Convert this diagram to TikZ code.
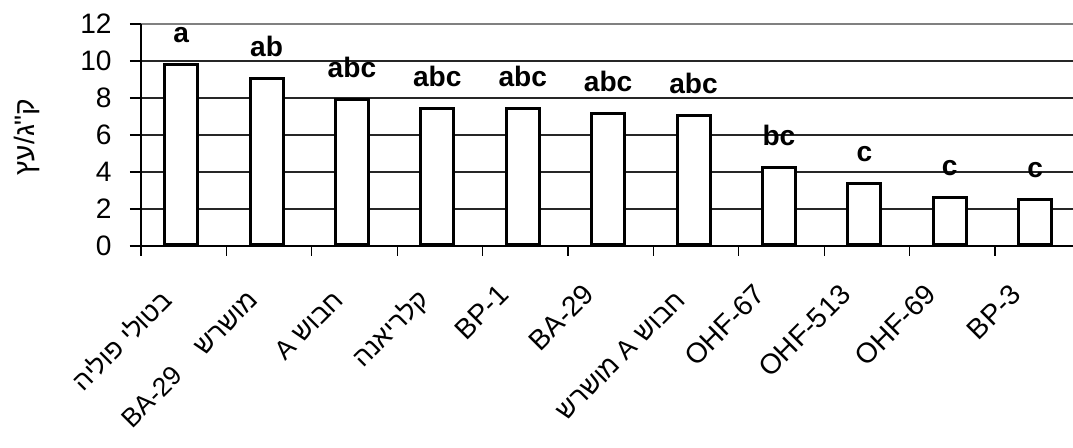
\documentclass[tikz,border=0pt]{standalone}
\usepackage{fontspec}
\setmainfont{Liberation Sans}
\newfontfamily\hebfont[Script=Hebrew]{Liberation Sans}
\TeXXeTstate=1
\usepackage{tikz}
\usetikzlibrary{positioning}

\tikzset{
  gridline/.style={line width=0.6pt, black!85},
  barbox/.style={draw, line width=1.7pt, fill=white, anchor=south, minimum width=0.66cm, inner sep=0pt},
  sig/.style={font=\bfseries\fontsize{16}{19}\selectfont, inner sep=0pt},
  catlabel/.style={rotate=45, anchor=north east, inner sep=0pt, text height=11.5pt, text depth=0pt},
  catheb/.style={catlabel, font=\hebfont\fontsize{15}{18}\selectfont, text height=15.6pt}
}

\begin{document}
\begin{tikzpicture}[x=1.708cm, y=0.37cm, every node/.style={font=\fontsize{16}{19}\selectfont}]
  \useasboundingbox (-2.82cm,-4.02cm) rectangle (18.64cm,4.92cm);

  % grid and axes
  \foreach \y in {2,4,...,10} \draw[gridline] (0,\y) -- (10.92,\y);
  \draw[line width=0.6pt, gray] (0,12) -- (10.92,12);
  \foreach \y in {0,2,...,12} {
    \draw[line width=0.6pt] (-0.129,\y) -- (0,\y);
    \node[anchor=east, inner sep=0pt] (t\y) at (-0.34,\y) {\y};
  }
  \foreach \k in {1,...,10} \draw[line width=0.6pt] (\k,0) -- (\k,-0.54);

  % bars
  \node[barbox, minimum height=3.61cm] (b1) at (0.47,0) {};
  \node[barbox, minimum height=3.33cm] (b2) at (1.47,0) {};
  \node[barbox, minimum height=2.91cm] (b3) at (2.47,0) {};
  \node[barbox, minimum height=2.73cm] (b4) at (3.47,0) {};
  \node[barbox, minimum height=2.73cm] (b5) at (4.47,0) {};
  \node[barbox, minimum height=2.63cm] (b6) at (5.47,0) {};
  \node[barbox, minimum height=2.59cm] (b7) at (6.47,0) {};
  \node[barbox, minimum height=1.55cm] (b8) at (7.47,0) {};
  \node[barbox, minimum height=1.23cm] (b9) at (8.47,0) {};
  \node[barbox, minimum height=0.95cm] (b10) at (9.47,0) {};
  \node[barbox, minimum height=0.91cm] (b11) at (10.47,0) {};

  \draw[line width=0.6pt] (0,-0.54) -- (0,12);
  \draw[line width=0.6pt] (-0.129,0) -- (10.92,0);

  % letters
  \node[sig, above=0.39cm of b1] (s1) {a};
  \node[sig, above=0.39cm of b2] (s2) {ab};
  \node[sig, above=0.39cm of b3] (s3) {abc};
  \node[sig, above=0.39cm of b4] (s4) {abc};
  \node[sig, above=0.39cm of b5] (s5) {abc};
  \node[sig, above=0.39cm of b6] (s6) {abc};
  \node[sig, above=0.39cm of b7] (s7) {abc};
  \node[sig, above=0.39cm of b8] (s8) {bc};
  \node[sig, above=0.39cm of b9] (s9) {c};
  \node[sig, above=0.39cm of b10] (s10) {c};
  \node[sig, above=0.39cm of b11] (s11) {c};

  % category labels
  \node[catheb] (c1) at (0.16,-1.95) {\beginR בטולי פוליה\endR};
  \node[catheb] (c2) at (1.16,-1.95) {\beginR מושרש\hspace{1.1em}\beginL BA-29\endL\endR};
  \node[catheb] (c3) at (2.16,-1.95) {\beginR חבוש A\endR};
  \node[catheb] (c4) at (3.16,-1.95) {\beginR קלריאנה\endR};
  \node[catlabel] (c5) at (4.16,-1.95) {BP-1};
  \node[catlabel] (c6) at (5.16,-1.95) {BA-29};
  \node[catheb] (c7) at (6.16,-1.95) {\beginR חבוש A מושרש\endR};
  \node[catlabel] (c8) at (7.16,-1.95) {OHF-67};
  \node[catlabel] (c9) at (8.16,-1.95) {OHF-513};
  \node[catlabel] (c10) at (9.16,-1.95) {OHF-69};
  \node[catlabel] (c11) at (10.16,-1.95) {BP-3};

  \node[rotate=90] (ylab) at (-1.335,5.9) {\hebfont\beginR ק"ג/עץ\endR};
\end{tikzpicture}
\end{document}
